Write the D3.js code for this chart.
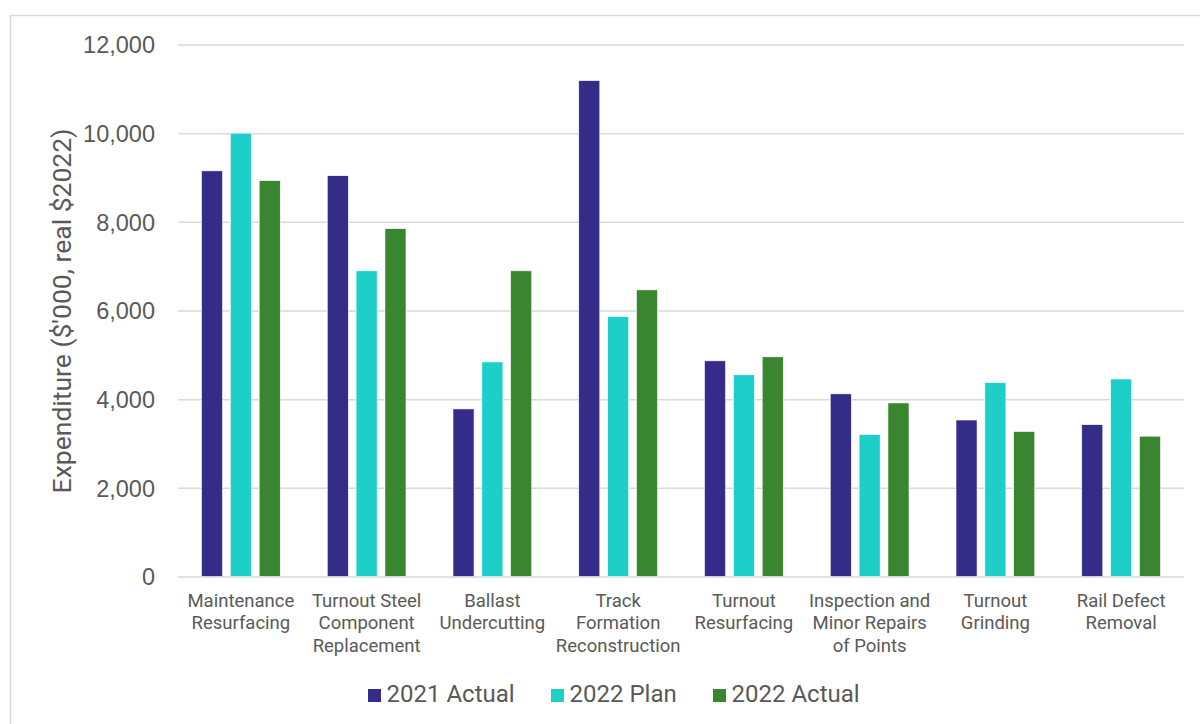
<!DOCTYPE html>
<html>
<head>
<meta charset="utf-8">
<script src="https://cdn.jsdelivr.net/npm/d3@7"></script>
<style>
  body { margin: 0; background: #fff; }
  svg { font-family: Roboto, "Open Sans", sans-serif; }
</style>
</head>
<body>
<svg id="chart"></svg>
<script>
// Data
var categories = [
  ["Maintenance", "Resurfacing"],
  ["Turnout Steel", "Component", "Replacement"],
  ["Ballast", "Undercutting"],
  ["Track", "Formation", "Reconstruction"],
  ["Turnout", "Resurfacing"],
  ["Inspection and", "Minor Repairs", "of Points"],
  ["Turnout", "Grinding"],
  ["Rail Defect", "Removal"]
];
var seriesNames = ["2021 Actual", "2022 Plan", "2022 Actual"];
var actual2021 = [9150, 9040, 3780, 11185, 4865, 4120, 3530, 3425];
var plan2022 = [10000, 6895, 4840, 5860, 4550, 3200, 4375, 4455];
var actual2022 = [8930, 7845, 6895, 6465, 4955, 3915, 3270, 3165];
var yTicks = [0, 2000, 4000, 6000, 8000, 10000, 12000];
var colors = ["#352C8A", "#1DCFC8", "#3A852F"];

var svgWidth = 1200;
var svgHeight = 724;
var margin = { top: 44.5, right: 16, bottom: 147.5, left: 178 };
var chartWidth = svgWidth - margin.left - margin.right;
var chartHeight = svgHeight - margin.top - margin.bottom;

var svg = d3.select("#chart")
  .attr("width", svgWidth)
  .attr("height", svgHeight);

// outer chart border (only left/top visible in frame)
svg.append("rect")
  .attr("x", 10.5)
  .attr("y", 15.5)
  .attr("width", 1300)
  .attr("height", 800)
  .attr("fill", "none")
  .attr("stroke", "#D9D9D9")
  .attr("stroke-width", 1.5);

var chart = svg.append("g")
  .attr("transform", "translate(" + margin.left + "," + margin.top + ")");

var keys = categories.map(function (d, i) { return "c" + i; });

var xScale = d3.scaleBand()
  .domain(keys)
  .range([0, chartWidth])
  .paddingInner(0)
  .paddingOuter(0);

var xInner = d3.scaleBand()
  .domain(seriesNames)
  .range([23.5, xScale.bandwidth() - 23.5])
  .paddingInner(0.27);

var yScale = d3.scaleLinear()
  .domain([0, 12000])
  .range([chartHeight, 0]);

// gridlines
chart.append("g")
  .attr("class", "grid")
  .call(d3.axisLeft(yScale).tickValues(yTicks).tickSize(-chartWidth).tickFormat(""))
  .call(function (g) { g.select(".domain").remove(); })
  .selectAll("line")
  .attr("stroke", "#D9D9D9")
  .attr("stroke-width", 1.5);

// y-axis labels
chart.append("g")
  .attr("class", "axis")
  .call(d3.axisLeft(yScale).tickValues(yTicks).tickSize(0).tickPadding(23).tickFormat(d3.format(",")))
  .call(function (g) { g.select(".domain").remove(); })
  .selectAll("text")
  .attr("fill", "#595959")
  .style("font-size", "23.5px")
  .attr("dy", "0.35em");

// bars
var allSeries = [actual2021, plan2022, actual2022];
var groups = chart.selectAll(".group")
  .data(keys)
  .enter()
  .append("g")
  .attr("class", "group")
  .attr("transform", function (d) { return "translate(" + xScale(d) + ",0)"; });

groups.selectAll("rect")
  .data(function (d, i) {
    return seriesNames.map(function (s, j) { return { series: s, idx: j, value: allSeries[j][i] }; });
  })
  .enter()
  .append("rect")
  .attr("x", function (d) { return xInner(d.series); })
  .attr("y", function (d) { return yScale(d.value); })
  .attr("width", xInner.bandwidth())
  .attr("height", function (d) { return chartHeight - yScale(d.value); })
  .attr("fill", function (d) { return colors[d.idx]; })
  .attr("stroke", "#ffffff")
  .attr("stroke-width", 0.6);

// x-axis labels (multi-line)
var xAxis = chart.append("g")
  .attr("class", "axis")
  .attr("transform", "translate(0," + chartHeight + ")");

xAxis.selectAll(".xlabel")
  .data(categories)
  .enter()
  .append("text")
  .attr("class", "xlabel")
  .attr("x", function (d, i) { return xScale(keys[i]) + xScale.bandwidth() / 2; })
  .attr("y", 30)
  .attr("text-anchor", "middle")
  .attr("fill", "#595959")
  .style("font-size", "18.5px")
  .each(function (d) {
    var t = d3.select(this);
    d.forEach(function (line, k) {
      t.append("tspan")
        .attr("x", t.attr("x"))
        .attr("dy", k === 0 ? 0 : 22.5)
        .text(line);
    });
  });

// y-axis title
svg.append("text")
  .attr("transform", "translate(71,311) rotate(-90)")
  .attr("text-anchor", "middle")
  .attr("fill", "#595959")
  .style("font-size", "26.5px")
  .text("Expenditure ($'000, real $2022)");

// legend
var legendX = [368, 551, 713];
var legend = svg.append("g").attr("class", "legend");
seriesNames.forEach(function (name, i) {
  legend.append("rect")
    .attr("x", legendX[i])
    .attr("y", 689)
    .attr("width", 13)
    .attr("height", 13)
    .attr("fill", colors[i]);
  legend.append("text")
    .attr("x", legendX[i] + 18.5)
    .attr("y", 702)
    .attr("fill", "#595959")
    .style("font-size", "24px")
    .text(name);
});
</script>
</body>
</html>
